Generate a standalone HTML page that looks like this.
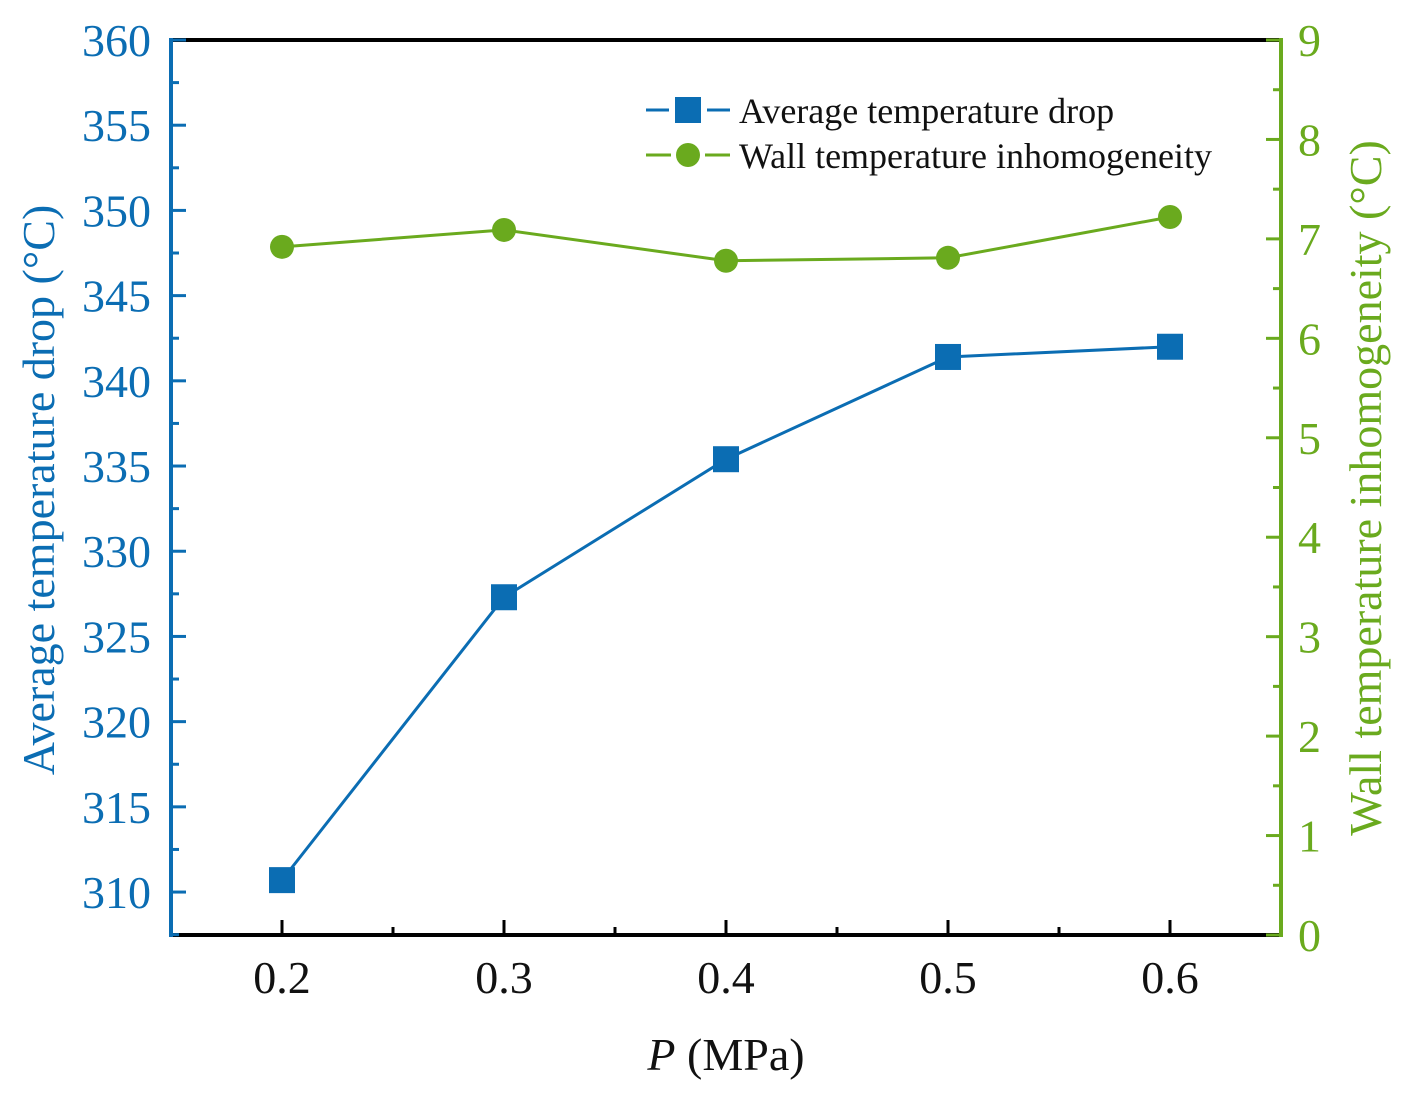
<!DOCTYPE html>
<html><head><meta charset="utf-8"><style>
html,body{margin:0;padding:0;background:#fff;}
svg{display:block;font-family:"Liberation Serif",serif;}
</style></head><body>
<svg id="chart" width="1409" height="1095" viewBox="0 0 1409 1095" xmlns="http://www.w3.org/2000/svg"></svg>
<script>
const categories = [0.2, 0.3, 0.4, 0.5, 0.6];
const avgDrop = [310.7, 327.3, 335.4, 341.4, 342.0];
const wallInhom = [6.92, 7.09, 6.78, 6.81, 7.22];
const leftTicks = [310, 315, 320, 325, 330, 335, 340, 345, 350, 355, 360];
const rightTicks = [0, 1, 2, 3, 4, 5, 6, 7, 8, 9];
const xTicks = [0.2, 0.3, 0.4, 0.5, 0.6];

const BLUE = '#0b6db3', GREEN = '#6aaa1e';
const L = 171, R = 1281, T = 40, B = 935;
const xMin = 0.15, xMax = 0.65, lMin = 307.48, lMax = 360, rMin = 0, rMax = 9;
const X = v => L + (v - xMin) / (xMax - xMin) * (R - L);
const YL = v => B - (v - lMin) / (lMax - lMin) * (B - T);
const YR = v => B - (v - rMin) / (rMax - rMin) * (B - T);
const svg = document.getElementById('chart');
const NS = 'http://www.w3.org/2000/svg';
function mk(tag, attrs, parent) {
  const e = document.createElementNS(NS, tag);
  for (const k in attrs) e.setAttribute(k, attrs[k]);
  (parent || svg).appendChild(e);
  return e;
}
function txt(s, attrs) { const e = mk('text', attrs); e.textContent = s; return e; }

let e;
e = mk('line', {x1: L, y1: T, x2: R, y2: T, stroke: '#000', 'stroke-width': 4});
 
e = mk('line', {x1: L, y1: B, x2: R, y2: B, stroke: '#000', 'stroke-width': 4});
 
e = mk('line', {x1: L, y1: T - 2, x2: L, y2: B + 2, stroke: BLUE, 'stroke-width': 4});
 
e = mk('line', {x1: R, y1: T - 2, x2: R, y2: B + 2, stroke: GREEN, 'stroke-width': 4});
 

for (let i = 0; i < leftTicks.length; i++) {
  const v = leftTicks[i], y = YL(v);
  e = mk('line', {x1: L, y1: y, x2: L + 15, y2: y, stroke: BLUE, 'stroke-width': 3});
   
  e = txt(String(v), {x: L - 20, y: y + 16, 'text-anchor': 'end', 'font-size': 46, fill: BLUE});
   
  const m = v - 2.5;
  if (m > lMin) {
    e = mk('line', {x1: L, y1: YL(m), x2: L + 8, y2: YL(m), stroke: BLUE, 'stroke-width': 3});
     
  }
}
for (let i = 0; i < rightTicks.length; i++) {
  const v = rightTicks[i], y = YR(v);
  e = mk('line', {x1: R, y1: y, x2: R - 15, y2: y, stroke: GREEN, 'stroke-width': 3});
   
  e = txt(String(v), {x: R + 17, y: y + 16, 'text-anchor': 'start', 'font-size': 46, fill: GREEN});
   
  if (v < rMax) {
    e = mk('line', {x1: R, y1: YR(v + 0.5), x2: R - 8, y2: YR(v + 0.5), stroke: GREEN, 'stroke-width': 3});
     
  }
}
for (let i = 0; i < xTicks.length; i++) {
  const v = xTicks[i], x = X(v);
  e = mk('line', {x1: x, y1: B, x2: x, y2: B - 15, stroke: '#000', 'stroke-width': 3});
   
  e = txt(v.toFixed(1), {x: x, y: B + 58, 'text-anchor': 'middle', 'font-size': 46, fill: '#111'});
   
  const m = v + 0.05;
  if (m < xMax) {
    e = mk('line', {x1: X(m), y1: B, x2: X(m), y2: B - 8, stroke: '#000', 'stroke-width': 3});
     
  }
}
e = txt('', {x: 726, y: 1070, 'text-anchor': 'middle', 'font-size': 46, fill: '#111'});
 
e.innerHTML = '<tspan font-style="italic">P</tspan> (MPa)';
e = txt('Average temperature drop (°C)', {x: 0, y: 0, 'text-anchor': 'middle', 'font-size': 46, fill: BLUE, transform: 'translate(54,490) rotate(-90)'});
 
e = txt('Wall temperature inhomogeneity (°C)', {x: 0, y: 0, 'text-anchor': 'middle', 'font-size': 46, fill: GREEN, transform: 'translate(1381,488) rotate(-90)'});
 

const bluePts = categories.map((c, i) => X(c) + ',' + YL(avgDrop[i])).join(' ');
e = mk('polyline', {points: bluePts, fill: 'none', stroke: BLUE, 'stroke-width': 3});
 
const greenPts = categories.map((c, i) => X(c) + ',' + YR(wallInhom[i])).join(' ');
e = mk('polyline', {points: greenPts, fill: 'none', stroke: GREEN, 'stroke-width': 3});
 
for (let i = 0; i < categories.length; i++) {
  e = mk('rect', {x: X(categories[i]) - 13, y: YL(avgDrop[i]) - 13, width: 26, height: 26, fill: BLUE});
   
  e = mk('circle', {cx: X(categories[i]), cy: YR(wallInhom[i]), r: 12, fill: GREEN});
   
}

const lg = mk('g', {});
 
e = mk('path', {d: 'M646 110 H669 M707 110 H730', stroke: BLUE, 'stroke-width': 3, fill: 'none'}, lg);
 
e = mk('rect', {x: 675, y: 97, width: 26, height: 26, fill: BLUE}, lg);
 
e = mk('text', {x: 739, y: 123, 'font-size': 36, fill: '#111'}, lg);
e.textContent = 'Average temperature drop';
 
e = mk('path', {d: 'M646 155 H671 M705 155 H730', stroke: GREEN, 'stroke-width': 3, fill: 'none'}, lg);
 
e = mk('circle', {cx: 688, cy: 155, r: 12, fill: GREEN}, lg);
 
e = mk('text', {x: 739, y: 168, 'font-size': 36, fill: '#111'}, lg);
e.textContent = 'Wall temperature inhomogeneity';
 
</script>
</body></html>
